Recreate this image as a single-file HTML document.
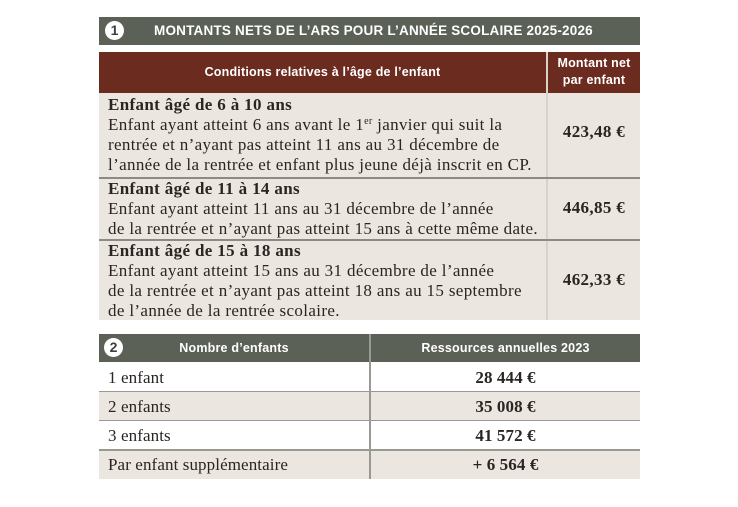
<!DOCTYPE html>
<html><head><meta charset="utf-8"><style>
*{margin:0;padding:0;box-sizing:border-box}
body{width:738px;height:507px;background:#fff;position:relative;overflow:hidden;font-family:"Liberation Serif",serif;color:#2a2522}
.a{position:absolute}
.h{font-family:"Liberation Sans",sans-serif;font-weight:bold;color:#fff;font-size:12.5px;letter-spacing:0.2px}
.t{font-size:17px;line-height:20px;letter-spacing:0.35px;white-space:nowrap}
.t2{letter-spacing:0.1px}
.b{font-weight:bold}
sup{font-size:10px;line-height:0;vertical-align:6px}
.num{width:19px;height:19px;border-radius:50%;background:#fff;color:#3d3f3a;font-family:"Liberation Sans",sans-serif;font-weight:bold;font-size:14px;text-align:center;line-height:19px}
</style></head><body>
<!-- table 1 -->
<div class="a" style="left:99px;top:17px;width:541px;height:28px;background:#5c6158"></div>
<div class="a num" style="left:105px;top:21px">1</div>
<div class="a h" style="left:154px;top:23px;font-size:13.5px">MONTANTS NETS DE L’ARS POUR L’ANNÉE SCOLAIRE 2025-2026</div>
<div class="a" style="left:99px;top:52px;width:541px;height:41px;background:#6c2b1f"></div>
<div class="a h" style="left:99px;top:65px;width:447px;text-align:center">Conditions relatives à l’âge de l’enfant</div>
<div class="a" style="left:546px;top:52px;width:2px;height:268px;background:#d8d2c8"></div>
<div class="a h" style="left:548px;top:55px;width:92px;text-align:center;line-height:17px">Montant net<br>par enfant</div>
<div class="a" style="left:99px;top:93px;width:447px;height:227px;background:#ebe7e0"></div>
<div class="a" style="left:548px;top:93px;width:92px;height:227px;background:#ebe7e0"></div>
<div class="a" style="left:99px;top:177px;width:541px;height:2px;background:#8c8a85"></div>
<div class="a" style="left:99px;top:239px;width:541px;height:2px;background:#8c8a85"></div>
<div class="a t" style="left:108px;top:95px"><span class="b">Enfant âgé de 6 à 10 ans</span><br>Enfant ayant atteint 6 ans avant le 1<sup>er</sup> janvier qui suit la<br>rentrée et n’ayant pas atteint 11 ans au 31 décembre de<br>l’année de la rentrée et enfant plus jeune déjà inscrit en CP.</div>
<div class="a t b" style="left:548px;top:122px;width:92px;text-align:center">423,48 €</div>
<div class="a t" style="left:108px;top:179px"><span class="b">Enfant âgé de 11 à 14 ans</span><br>Enfant ayant atteint 11 ans au 31 décembre de l’année<br>de la rentrée et n’ayant pas atteint 15 ans à cette même date.</div>
<div class="a t b" style="left:548px;top:198px;width:92px;text-align:center">446,85 €</div>
<div class="a t" style="left:108px;top:241px"><span class="b">Enfant âgé de 15 à 18 ans</span><br>Enfant ayant atteint 15 ans au 31 décembre de l’année<br>de la rentrée et n’ayant pas atteint 18 ans au 15 septembre<br>de l’année de la rentrée scolaire.</div>
<div class="a t b" style="left:548px;top:270px;width:92px;text-align:center">462,33 €</div>
<!-- table 2 -->
<div class="a" style="left:99px;top:334px;width:541px;height:28px;background:#5c6158"></div>
<div class="a num" style="left:104px;top:338px">2</div>
<div class="a h" style="left:99px;top:341px;width:270px;text-align:center">Nombre d’enfants</div>
<div class="a h" style="left:371px;top:341px;width:269px;text-align:center">Ressources annuelles 2023</div>
<div class="a" style="left:99px;top:362px;width:541px;height:29px;background:#fff"></div>
<div class="a" style="left:99px;top:392px;width:541px;height:29px;background:#ebe6df"></div>
<div class="a" style="left:99px;top:421px;width:541px;height:29px;background:#fff"></div>
<div class="a" style="left:99px;top:450px;width:541px;height:29px;background:#ebe6df"></div>
<div class="a" style="left:99px;top:391px;width:541px;height:1px;background:#9a9893"></div>
<div class="a" style="left:99px;top:420px;width:541px;height:1px;background:#9a9893"></div>
<div class="a" style="left:99px;top:449px;width:541px;height:2px;background:#9a9893"></div>
<div class="a" style="left:369px;top:334px;width:2px;height:145px;background:#9a9893"></div>
<div class="a t t2" style="left:108px;top:368px">1 enfant</div>
<div class="a t t2" style="left:108px;top:397px">2 enfants</div>
<div class="a t t2" style="left:108px;top:426px">3 enfants</div>
<div class="a t t2" style="left:108px;top:455px">Par enfant supplémentaire</div>
<div class="a t t2 b" style="left:371px;top:368px;width:269px;text-align:center">28 444 €</div>
<div class="a t t2 b" style="left:371px;top:397px;width:269px;text-align:center">35 008 €</div>
<div class="a t t2 b" style="left:371px;top:426px;width:269px;text-align:center">41 572 €</div>
<div class="a t t2 b" style="left:371px;top:455px;width:269px;text-align:center">+ 6 564 €</div>
</body></html>
